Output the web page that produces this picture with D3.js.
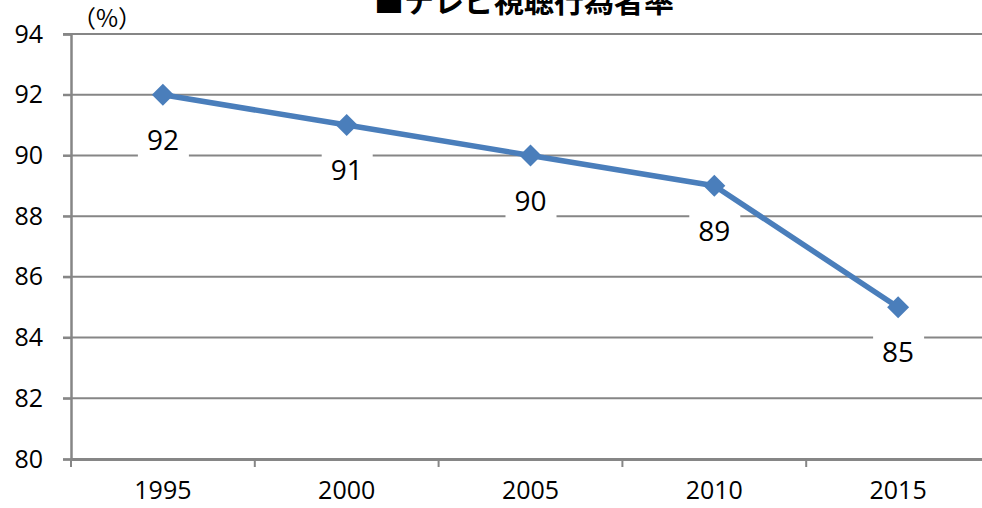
<!DOCTYPE html>
<html>
<head>
<meta charset="utf-8">
<script src="https://cdn.jsdelivr.net/npm/d3@7"></script>
<style>
  body { margin: 0; background: #fff; }
  svg { display: block; }
</style>
</head>
<body>
<div id="container"></div>
<script>
// データ
const years = ["1995", "2000", "2005", "2010", "2015"];
const rates = [92, 91, 90, 89, 85];
const yTicks = [80, 82, 84, 86, 88, 90, 92, 94];
const title = "■テレビ視聴行為者率";
const unitLabel = "（%）";

const width = 982;
const height = 508;
const margin = { top: 34, right: -8, bottom: 49, left: 71 };

const svg = d3.select("#container")
  .append("svg")
  .attr("width", width)
  .attr("height", height)
  .style("font-family", "'Open Sans', 'Noto Sans CJK JP', sans-serif");

const x = d3.scaleBand()
  .domain(years)
  .range([margin.left, width - margin.right]);

const y = d3.scaleLinear()
  .domain([80, 94])
  .range([height - margin.bottom, margin.top]);

const axisColor = "#868686";

// 横のグリッド線
svg.append("g")
  .selectAll("line")
  .data(yTicks.filter(d => d !== 80))
  .join("line")
  .attr("x1", margin.left - 8)
  .attr("x2", width)
  .attr("y1", d => y(d))
  .attr("y2", d => y(d))
  .attr("stroke", axisColor)
  .attr("stroke-width", 2);

// y 軸
const yAxis = svg.append("g")
  .attr("transform", `translate(${margin.left},0)`)
  .call(d3.axisLeft(y).tickValues(yTicks).tickSize(8).tickPadding(20).tickFormat(d3.format("d")));
yAxis.attr("font-size", null).attr("font-family", null);
yAxis.select(".domain").attr("stroke", axisColor).attr("stroke-width", 2.5);
yAxis.selectAll(".tick line").attr("stroke", axisColor).attr("stroke-width", 2);
yAxis.selectAll(".tick text")
  .attr("fill", "#000")
  .style("font-size", "25px");

// x 軸
const xAxis = svg.append("g")
  .attr("transform", `translate(0,${y(80)})`)
  .call(d3.axisBottom(x).tickSize(0).tickPadding(22));
xAxis.attr("font-size", null).attr("font-family", null);
xAxis.select(".domain").attr("stroke", axisColor).attr("stroke-width", 3);
xAxis.selectAll(".tick text")
  .attr("fill", "#000")
  .style("font-size", "25px");

// カテゴリ境界の目盛り
svg.append("g")
  .selectAll("line")
  .data(d3.range(years.length + 1))
  .join("line")
  .attr("x1", i => margin.left + i * x.step())
  .attr("x2", i => margin.left + i * x.step())
  .attr("y1", y(80))
  .attr("y2", y(80) + 8)
  .attr("stroke", axisColor)
  .attr("stroke-width", 2);

// 折れ線
const cx = (d, i) => x(years[i]) + x.bandwidth() / 2;
svg.append("path")
  .datum(rates)
  .attr("fill", "none")
  .attr("stroke", "#4a7ebb")
  .attr("stroke-width", 5.5)
  .attr("stroke-linejoin", "round")
  .attr("d", d3.line().x(cx).y(d => y(d)));

// マーカー（ひし形）
svg.append("g")
  .selectAll("path")
  .data(rates)
  .join("path")
  .attr("transform", (d, i) => `translate(${cx(d, i)},${y(d)})`)
  .attr("d", "M0,-11L11,0L0,11L-11,0Z")
  .attr("fill", "#4a7ebb");

// データラベル（白背景）
const labels = svg.append("g")
  .selectAll("g")
  .data(rates)
  .join("g")
  .attr("transform", (d, i) => `translate(${cx(d, i)},${y(d) + 45})`);
labels.append("rect")
  .attr("x", -25)
  .attr("y", -18)
  .attr("width", 51)
  .attr("height", 36)
  .attr("fill", "#fff");
labels.append("text")
  .attr("text-anchor", "middle")
  .attr("dy", "0.36em")
  .style("font-size", "28px")
  .text(d => d);

// 単位
svg.append("text")
  .attr("x", 72)
  .attr("y", 27)
  .style("font-size", "24px")
  .style("font-family", "'Noto Sans CJK JP', sans-serif")
  .text(unitLabel);

// タイトル（上端で切れている）
svg.append("text")
  .attr("x", 524)
  .attr("y", 12)
  .attr("text-anchor", "middle")
  .style("font-size", "30px")
  .style("font-weight", "bold")
  .style("font-family", "'Noto Sans CJK JP', sans-serif")
  .text(title);
</script>
</body>
</html>
